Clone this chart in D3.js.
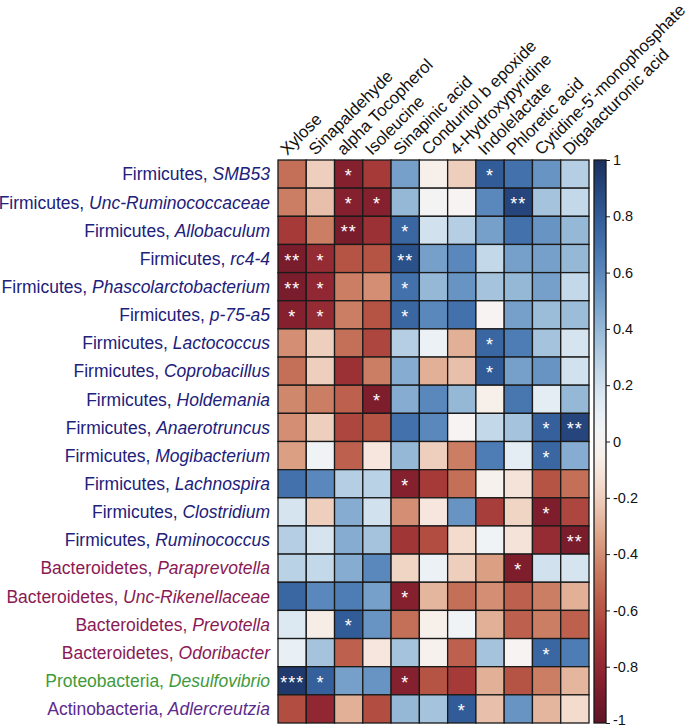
<!DOCTYPE html>
<html>
<head>
<meta charset="utf-8">
<script src="https://cdn.jsdelivr.net/npm/d3@7"></script>
<style>
  body { margin: 0; background: #fff; }
  svg { display: block; font-family: "Liberation Sans", Arial, sans-serif; }
</style>
</head>
<body>
<svg id="chart" width="700" height="728"></svg>
<script>
// ---- data ----
const metabolites = ["Xylose", "Sinapaldehyde", "alpha Tocopherol", "Isoleucine", "Sinapinic acid",
  "Conduritol b epoxide", "4-Hydroxypyridine", "Indolelactate", "Phloretic acid",
  "Cytidine-5'-monophosphate", "Digalacturonic acid"];

const phyla = ["Firmicutes", "Firmicutes", "Firmicutes", "Firmicutes", "Firmicutes", "Firmicutes",
  "Firmicutes", "Firmicutes", "Firmicutes", "Firmicutes", "Firmicutes", "Firmicutes", "Firmicutes",
  "Firmicutes", "Bacteroidetes", "Bacteroidetes", "Bacteroidetes", "Bacteroidetes",
  "Proteobacteria", "Actinobacteria"];

const genera = ["SMB53", "Unc-Ruminococcaceae", "Allobaculum", "rc4-4", "Phascolarctobacterium",
  "p-75-a5", "Lactococcus", "Coprobacillus", "Holdemania", "Anaerotruncus", "Mogibacterium",
  "Lachnospira", "Clostridium", "Ruminococcus", "Paraprevotella", "Unc-Rikenellaceae",
  "Prevotella", "Odoribacter", "Desulfovibrio", "Adlercreutzia"];

const phylumColors = {
  "Firmicutes": "#21207a",
  "Bacteroidetes": "#8a1a55",
  "Proteobacteria": "#3f9a3c",
  "Actinobacteria": "#5b2a8c"
};

// correlation values: rows = genera, columns = metabolites
const values = [
  [-0.50, -0.20, -0.85, -0.70,  0.50, -0.05, -0.20,  0.80,  0.70,  0.55,  0.30],
  [-0.45, -0.25, -0.85, -0.85,  0.40,  0.03,  0.00,  0.60,  0.90,  0.35,  0.25],
  [-0.70, -0.45, -0.90, -0.75,  0.75,  0.20,  0.30,  0.50,  0.70,  0.55,  0.40],
  [-0.90, -0.78, -0.60, -0.60,  0.85,  0.50,  0.60,  0.25,  0.50,  0.50,  0.40],
  [-0.90, -0.80, -0.45, -0.40,  0.70,  0.40,  0.55,  0.35,  0.40,  0.50,  0.25],
  [-0.85, -0.78, -0.45, -0.60,  0.75,  0.60,  0.70,  0.00,  0.50,  0.38,  0.38],
  [-0.40, -0.20, -0.50, -0.65,  0.30,  0.08, -0.30,  0.75,  0.65,  0.35,  0.18],
  [-0.50, -0.20, -0.75, -0.45,  0.45, -0.30, -0.25,  0.80,  0.50,  0.55,  0.20],
  [-0.42, -0.45, -0.55, -0.88,  0.45,  0.60,  0.40, -0.05,  0.68,  0.12,  0.40],
  [-0.40, -0.20, -0.65, -0.60,  0.70,  0.60,  0.00,  0.25,  0.35,  0.78,  0.90],
  [-0.35,  0.05, -0.55, -0.10,  0.40, -0.20, -0.45,  0.65,  0.12,  0.75,  0.45],
  [ 0.70,  0.60,  0.30,  0.28, -0.85, -0.70, -0.50, -0.03, -0.12, -0.60, -0.50],
  [ 0.18, -0.20,  0.45,  0.20, -0.40, -0.10,  0.55, -0.68, -0.18, -0.88, -0.65],
  [ 0.30,  0.18,  0.45,  0.35, -0.72, -0.62, -0.15,  0.05, -0.12, -0.78, -0.90],
  [ 0.28,  0.25,  0.45,  0.60, -0.18,  0.08, -0.20, -0.35, -0.88,  0.20,  0.18],
  [ 0.75,  0.60,  0.65,  0.50, -0.85, -0.28, -0.50, -0.40, -0.55, -0.45, -0.30],
  [ 0.15, -0.06,  0.80,  0.55, -0.50, -0.05,  0.05, -0.30, -0.55, -0.45, -0.55],
  [ 0.10,  0.35, -0.55, -0.10,  0.35, -0.03, -0.55,  0.35,  0.00,  0.75,  0.65],
  [ 0.95,  0.78,  0.50,  0.55, -0.85, -0.60, -0.70, -0.30, -0.60, -0.45, -0.28],
  [-0.62, -0.80, -0.30, -0.62,  0.40,  0.35,  0.80, -0.25,  0.55, -0.28, -0.15]
];

// significance marks
const stars = [
  ["", "", "*", "", "", "", "", "*", "", "", ""],
  ["", "", "*", "*", "", "", "", "", "**", "", ""],
  ["", "", "**", "", "*", "", "", "", "", "", ""],
  ["**", "*", "", "", "**", "", "", "", "", "", ""],
  ["**", "*", "", "", "*", "", "", "", "", "", ""],
  ["*", "*", "", "", "*", "", "", "", "", "", ""],
  ["", "", "", "", "", "", "", "*", "", "", ""],
  ["", "", "", "", "", "", "", "*", "", "", ""],
  ["", "", "", "*", "", "", "", "", "", "", ""],
  ["", "", "", "", "", "", "", "", "", "*", "**"],
  ["", "", "", "", "", "", "", "", "", "*", ""],
  ["", "", "", "", "*", "", "", "", "", "", ""],
  ["", "", "", "", "", "", "", "", "", "*", ""],
  ["", "", "", "", "", "", "", "", "", "", "**"],
  ["", "", "", "", "", "", "", "", "*", "", ""],
  ["", "", "", "", "*", "", "", "", "", "", ""],
  ["", "", "*", "", "", "", "", "", "", "", ""],
  ["", "", "", "", "", "", "", "", "", "*", ""],
  ["***", "*", "", "", "*", "", "", "", "", "", ""],
  ["", "", "", "", "", "", "*", "", "", "", ""]
];

const colorTicks = [1, 0.8, 0.6, 0.4, 0.2, 0, -0.2, -0.4, -0.6, -0.8, -1];
// palette from -1 to 1
const palette = ["#5f1526", "#942231", "#b6503f", "#d38d6d", "#f1d2c0", "#ffffff",
  "#d4e3ee", "#96bad8", "#5686bd", "#2f5c9c", "#1b2f5e"];

// ---- layout ----
const grid = { left: 278, right: 589, top: 160, bottom: 723 };
const bar = { left: 594, width: 12 };

const svg = d3.select("#chart");

const x = d3.scaleBand().domain(d3.range(metabolites.length)).range([grid.left, grid.right]);
const y = d3.scaleBand().domain(d3.range(genera.length)).range([grid.top, grid.bottom]);
const interp = d3.interpolateRgbBasis(palette);
const color = d3.scaleSequential(interp).domain([-1, 1]);

// cells
const cells = [];
values.forEach((row, i) => row.forEach((v, j) => cells.push({ i, j, v, s: stars[i][j] })));

svg.append("g").selectAll("rect").data(cells).join("rect")
  .attr("x", d => x(d.j))
  .attr("y", d => y(d.i))
  .attr("width", x.bandwidth())
  .attr("height", y.bandwidth())
  .attr("fill", d => color(d.v))
  .attr("stroke", "#1a1a1a")
  .attr("stroke-width", 1.3);

// stars
svg.append("g").selectAll("text").data(cells.filter(d => d.s)).join("text")
  .attr("x", d => x(d.j) + x.bandwidth() / 2)
  .attr("y", d => y(d.i) + y.bandwidth() / 2 + 8)
  .attr("text-anchor", "middle")
  .attr("fill", "#fff")
  .attr("font-size", 18)
  .attr("letter-spacing", 1)
  .text(d => d.s);

// row labels
const rowLabels = svg.append("g").selectAll("text").data(genera).join("text")
  .attr("x", grid.left - 8)
  .attr("y", (d, i) => y(i) + y.bandwidth() / 2)
  .attr("dy", "0.36em")
  .attr("text-anchor", "end")
  .attr("font-size", 17.5)
  .attr("fill", (d, i) => phylumColors[phyla[i]]);
rowLabels.append("tspan").text((d, i) => phyla[i] + ", ");
rowLabels.append("tspan").attr("font-style", "italic").text(d => d);

// column labels
svg.append("g").selectAll("text").data(metabolites).join("text")
  .attr("transform", (d, j) => `translate(${x(j) + x.bandwidth() / 2 - 5},${grid.top - 4}) rotate(-45)`)
  .attr("font-size", 16.8)
  .attr("fill", "#111")
  .text(d => d);

// colorbar
const defs = svg.append("defs");
const grad = defs.append("linearGradient").attr("id", "cbar")
  .attr("x1", 0).attr("y1", 1).attr("x2", 0).attr("y2", 0);
d3.range(0, 1.0001, 0.025).forEach(t => {
  grad.append("stop").attr("offset", t).attr("stop-color", interp(t));
});
svg.append("rect")
  .attr("x", bar.left).attr("y", grid.top)
  .attr("width", bar.width).attr("height", grid.bottom - grid.top)
  .attr("fill", "url(#cbar)")
  .attr("stroke", "#1a1a1a").attr("stroke-width", 1.3);

const cy = d3.scaleLinear().domain([-1, 1]).range([grid.bottom, grid.top]);
const axis = d3.axisRight(cy)
  .tickValues(colorTicks)
  .tickSize(4)
  .tickPadding(3)
  .tickFormat(v => String(+v.toFixed(1)));
const ag = svg.append("g").attr("transform", `translate(${bar.left + bar.width},0)`).call(axis);
ag.select(".domain").remove();
ag.selectAll("text").attr("font-size", 14.5).attr("fill", "#111")
  .attr("font-family", "Liberation Sans, Arial, sans-serif")
  .attr("dy", v => v === -1 ? "0.1em" : "0.32em");
ag.selectAll("line").attr("stroke", "#1a1a1a");
</script>
</body>
</html>
